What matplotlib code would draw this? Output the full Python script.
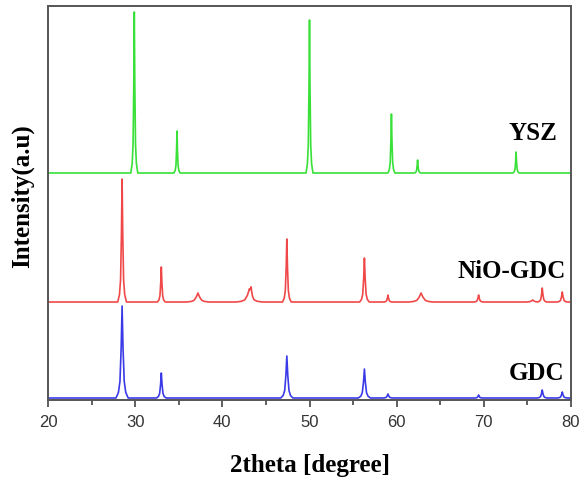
import numpy as np
import matplotlib
matplotlib.use("Agg")
import matplotlib.pyplot as plt
from matplotlib.ticker import MultipleLocator

# ---- data ----
# peaks: 2theta position, height above the pattern baseline, half width at foot (deg)
ysz_pos = [29.9, 34.8, 50.0, 59.4, 62.4, 73.7]
ysz_h = [161, 42, 153, 59, 13, 21]
ysz_w = [0.4, 0.35, 0.4, 0.4, 0.35, 0.35]

nio_pos = [28.5, 33.0, 37.2, 43.1, 43.3, 47.4, 56.3, 59.0, 62.8, 69.4, 75.6, 76.7, 79.0]
nio_h = [123, 35, 9, 12, 8, 63, 44, 7, 9, 7, 2, 14, 10]
nio_w = [0.5, 0.45, 1.3, 1.5, 0.45, 0.5, 0.55, 0.45, 1.4, 0.5, 0.9, 0.5, 0.55]

gdc_pos = [28.5, 33.0, 47.4, 56.3, 59.0, 69.4, 76.7, 79.0]
gdc_h = [92, 25, 42, 29, 4, 3, 8, 6]
gdc_w = [0.7, 0.55, 0.7, 0.7, 0.55, 0.45, 0.55, 0.55]

offsets = {"GDC": 2, "NiO-GDC": 98, "YSZ": 227}
colors = {"GDC": "#3a3ae8", "NiO-GDC": "#f04848", "YSZ": "#38e038"}

x_min, x_max = 20, 80

# peak outline template (fraction of half width, fraction of height)
tpl_dx = [-1.0, -0.6, -0.35, -0.15, 0.0, 0.15, 0.35, 0.6, 1.0]
tpl_fy = [0.0, 0.06, 0.18, 0.55, 1.0, 0.55, 0.18, 0.06, 0.0]


def pattern(pos, h, w):
    allx = [x_min, x_max]
    for p, ww in zip(pos, w):
        allx += [p + dx * ww for dx in tpl_dx]
    allx = np.array(sorted(set(allx)))
    tot = np.zeros(len(allx))
    for p, hh, ww in zip(pos, h, w):
        px = [p + dx * ww for dx in tpl_dx]
        py = [fy * hh for fy in tpl_fy]
        tot += np.interp(allx, px, py, left=0, right=0)
    return allx, tot


fig = plt.figure(figsize=(5.79, 4.83), dpi=100)
ax = fig.add_axes([48 / 579, 1 - 400 / 483, 523 / 579, 394.3 / 483])

series = [("YSZ", ysz_pos, ysz_h, ysz_w),
          ("NiO-GDC", nio_pos, nio_h, nio_w),
          ("GDC", gdc_pos, gdc_h, gdc_w)]
for name, pos, h, w in series:
    xs, ys = pattern(pos, h, w)
    ax.plot(xs, ys + offsets[name], color=colors[name], lw=1.2)

ax.set_xlim(x_min, x_max)
ax.set_ylim(0, 394.3)
ax.set_yticks([])
ax.xaxis.set_major_locator(MultipleLocator(10))
ax.xaxis.set_minor_locator(MultipleLocator(5))
ax.tick_params(axis="x", which="major", direction="out", length=5, width=1.2,
               color="#444444", labelsize=12, labelcolor="#333333", pad=6)
ax.tick_params(axis="x", which="minor", direction="out", length=3.5, width=1.2,
               color="#444444")
for lab in ax.get_xticklabels():
    lab.set_fontfamily("Liberation Sans")
for sp in ax.spines.values():
    sp.set_color("#555555")
    sp.set_linewidth(1.4)

serif = dict(fontfamily="Liberation Serif", fontweight="bold", fontsize=18)
ax.text(78.4, 266, "YSZ", ha="right", va="center", **serif)
ax.text(79.45, 129, "NiO-GDC", ha="right", va="center", **serif)
ax.text(79.2, 26, "GDC", ha="right", va="center", **serif)

ax.set_xlabel("2theta [degree]", **serif)
ax.set_ylabel("Intensity(a.u)", **serif)
ax.xaxis.label.set_va("center")
ax.yaxis.label.set_va("center")
ax.xaxis.set_label_coords(0.5, -0.167)
ax.yaxis.set_label_coords(-0.0497, 0.517)

fig.savefig("out.png", dpi=100)
